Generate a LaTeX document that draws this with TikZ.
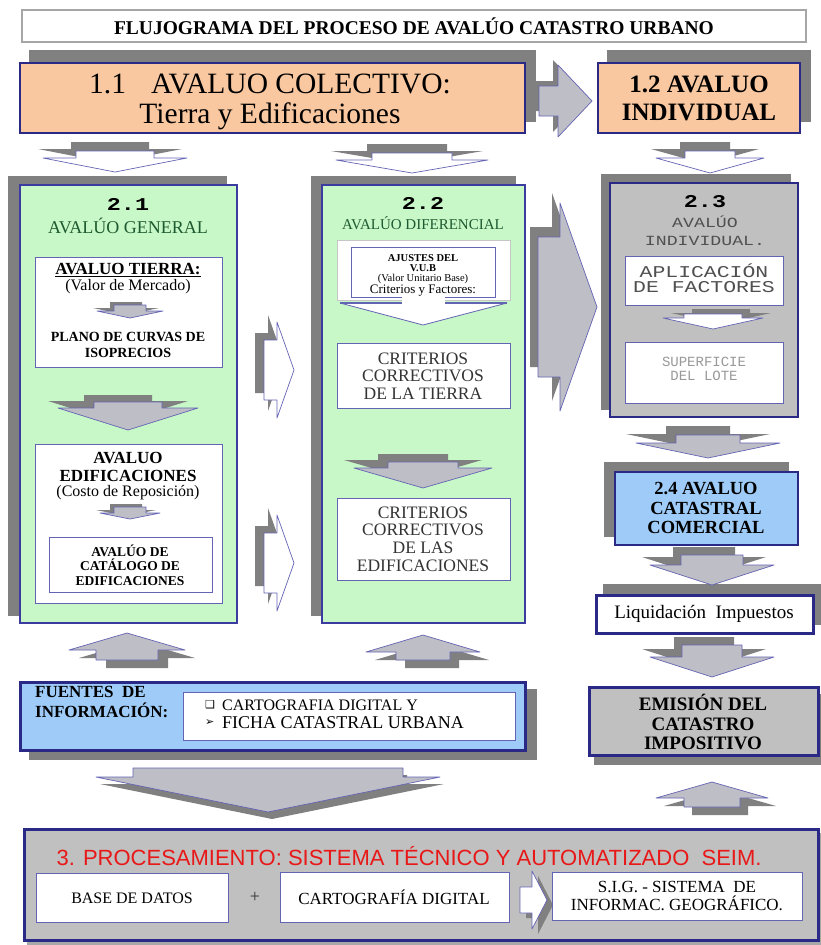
\documentclass[tikz,border=0pt]{standalone}
\usepackage{fontspec}
\setmainfont{Liberation Serif}
\setsansfont{Liberation Sans}
\setmonofont{Liberation Mono}
\newfontfamily\symfont{DejaVu Sans}
\newfontfamily\monow[FakeStretch=1.3]{Liberation Mono}
\usetikzlibrary{calc}
\pgfdeclarelayer{back}
\pgfdeclarelayer{bg}
\pgfsetlayers{back,bg,main}

\definecolor{peach}{HTML}{FAC8A0}
\definecolor{lgreen}{HTML}{C8F7C8}
\definecolor{lblue}{HTML}{9ECBF7}
\definecolor{boxgray}{HTML}{C0C0C0}
\definecolor{shd}{HTML}{808080}
\definecolor{lshd}{HTML}{A8A8A8}
\definecolor{dblue}{HTML}{2A2A86}
\definecolor{mblue}{HTML}{3C3CA0}
\definecolor{iblue}{HTML}{6464B4}
\definecolor{tgreen}{HTML}{1E5A30}
\definecolor{tdark}{HTML}{333333}
\definecolor{tgray}{HTML}{505050}
\definecolor{arrgray}{HTML}{BEBEC6}
\definecolor{redt}{HTML}{E81818}

\newcommand\fs[2]{\fontsize{#1}{#2}\selectfont}
% box node: name, x1,y1,x2,y2, style
\newcommand\bx[6]{\node[inner sep=0pt, #6, minimum width={#4-#2}, minimum height={#5-#3}] (#1) at ({(#2+#4)/2},{(#3+#5)/2}) {};}
% shadow of a box: name, dx, dy
\newcommand\sh[4][shd]{\begin{pgfonlayer}{bg}\fill[#1] ([shift={(#3,#4)}]#2.south west) rectangle ([shift={(#3,#4)}]#2.north east);\end{pgfonlayer}}
% down arrow: opts, cx, ytop, stem half width, stem height, head half width, head height
\newcommand\darr[7]{\path[#1] (#2-#4,#3) -- (#2+#4,#3) -- (#2+#4,#3+#5) -- (#2+#6,#3+#5) -- (#2,#3+#5+#7) -- (#2-#6,#3+#5) -- (#2-#4,#3+#5) -- cycle;}
\newcommand\darrS[9]{\begin{scope}[shift={(#1,#2)}]\darr{fill=shd}{#4}{#5}{#6}{#7}{#8}{#9}\end{scope}%
  \darr{fill=#3, draw=iblue, line width=0.7pt, line join=round}{#4}{#5}{#6}{#7}{#8}{#9}}
% up arrow: opts, cx, ytip, head height, head half width, stem height, stem half width
\newcommand\uarr[7]{\path[#1] (#2,#3) -- (#2+#5,#3+#4) -- (#2+#7,#3+#4) -- (#2+#7,#3+#4+#6) -- (#2-#7,#3+#4+#6) -- (#2-#7,#3+#4) -- (#2-#5,#3+#4) -- cycle;}
\newcommand\uarrS[9]{\begin{scope}[shift={(#1,#2)}]\uarr{fill=shd}{#4}{#5}{#6}{#7}{#8}{#9}\end{scope}%
  \uarr{fill=#3, draw=iblue, line width=0.7pt, line join=round}{#4}{#5}{#6}{#7}{#8}{#9}}
% right arrow: opts, xleft, cy, stem half height, stem length, head half height, head length
\newcommand\rarr[7]{\path[#1] (#2,#3-#4) -- (#2+#5,#3-#4) -- (#2+#5,#3-#6) -- (#2+#5+#7,#3) -- (#2+#5,#3+#6) -- (#2+#5,#3+#4) -- (#2,#3+#4) -- cycle;}
\newcommand\rarrS[9]{\begin{scope}[shift={(#1,#2)}]\rarr{fill=shd}{#4}{#5}{#6}{#7}{#8}{#9}\end{scope}%
  \rarr{fill=#3, draw=iblue, line width=0.7pt, line join=round}{#4}{#5}{#6}{#7}{#8}{#9}}

\tikzset{
  txt/.style={inner sep=0pt, align=center},
  wbox/.style={fill=white, draw=iblue, line width=0.8pt},
  gcol/.style={fill=lgreen, draw=mblue, line width=1.2pt},
}

\begin{document}
\begin{tikzpicture}[x=1pt, y=-1pt]
\begin{pgfonlayer}{back}
\fill[white] (0,0) rectangle (821,945);
\end{pgfonlayer}
\useasboundingbox (0,0) rectangle (821,945);

% ---------- title
\bx{tbox}{22}{10}{806}{42}{fill=white, draw=gray!70, line width=1.2pt}
\node[txt, font=\bfseries\fs{19.5}{21}] (ttl) at (414,26.5) {FLUJOGRAMA DEL PROCESO DE AVALÚO CATASTRO URBANO};

% ---------- 1.1
\bx{b11}{20}{63}{525}{133}{fill=peach, draw=dblue, line width=2.5pt}
\sh{b11}{10}{-12}
\node[txt, font=\fs{29.5}{30}] (t11) at (270,102) {1.1\hspace{0.6em} AVALUO COLECTIVO:\\Tierra y Edificaciones};

% arrow 1.1 -> 1.2
\rarrS{-5}{-5}{arrgray}{539}{101}{15}{19}{36}{34}

% ---------- 1.2
\bx{b12}{598}{63}{800}{133}{fill=peach, draw=dblue, line width=2.5pt}
\sh{b12}{10}{-12}
\node[txt, font=\bfseries\fs{25}{28}] (t12) at (699,98) {1.2 AVALUO\\INDIVIDUAL};

% down arrows row 1
\darrS{-5}{-9}{white}{115}{151}{39}{7}{72}{14}
\darrS{-5}{-9}{white}{412}{153}{40}{7}{76}{13}
\darrS{-5}{-9}{white}{710}{151}{25}{7}{54}{15}

% ---------- column 2.1
\bx{c21}{20}{185}{237}{623}{gcol}
\sh{c21}{-11}{-8}
\node[txt, font=\monow\bfseries\fs{18}{20}] (h21) at (128,204) {2.1};
\node[txt, font=\fs{18}{20}, text=tgreen] (g21) at (128,226) {AVALÚO GENERAL};
\bx{t1}{35}{257}{222}{367}{wbox}
\node[txt, font=\bfseries\fs{17}{19}] (avt) at (128,270) {\underline{AVALUO TIERRA:}};
\node[txt, font=\fs{16}{18}] (vm) at (128,287) {(Valor de Mercado)};
\darrS{-4}{-3}{arrgray}{130}{305}{16}{6}{33}{7}
\node[txt, font=\bfseries\fs{14}{16}] (pl) at (128,345) {PLANO DE CURVAS DE\\ISOPRECIOS};
\darrS{-10}{-7}{arrgray}{128}{402}{34}{6}{70}{22}
\bx{e1}{35}{444}{222}{603}{wbox}
\node[txt, font=\bfseries\fs{17}{18}] (ae) at (128,467) {AVALUO\\EDIFICACIONES};
\node[txt, font=\fs{16}{18}] (cr) at (128,493) {(Costo de Reposición)};
\darrS{-4}{-3}{arrgray}{130}{507}{16}{6}{30}{6}
\bx{e2}{49}{537}{212}{592}{wbox}
\node[txt, font=\bfseries\fs{13.5}{14.5}] (ac) at (130,565) {AVALÚO DE\\CATÁLOGO DE\\EDIFICACIONES};

% right arrows between 2.1 and 2.2
\rarrS{-9}{-7}{white}{264}{370}{30}{13}{48}{17}
\rarrS{-9}{-7}{white}{264}{563}{30}{13}{48}{17}

% ---------- column 2.2
\bx{c22}{322}{185}{525}{623}{gcol}
\sh{c22}{-10}{-8}
\node[txt, font=\monow\bfseries\fs{18}{20}] (h22) at (423,203) {2.2};
\node[txt, font=\fs{15}{17}, text=tgreen] (g22) at (423,223) {AVALÚO DIFERENCIAL};
\bx{co}{337}{240}{510}{300}{fill=white, draw=gray!45, line width=0.6pt}
\bx{coi}{351}{247}{495}{297}{draw=iblue, line width=0.8pt}
\fill[white] (402,296) rectangle (445,305);
\path[fill=white] (340,303) -- (507,303) -- (423,325) -- cycle;
\draw[iblue, line width=0.8pt, line join=round] (340,303) -- (423,325) -- (507,303);
\draw[iblue, line width=2pt] (340,303) -- (402,303) (445,303) -- (507,303);
\node[txt, font=\bfseries\fs{10.5}{11}] (aj1) at (423,258) {AJUSTES DEL};
\node[txt, font=\bfseries\fs{10.5}{11}] (aj2) at (423,268) {V.U.B};
\node[txt, font=\fs{10.5}{11}] (aj3) at (423,279) {(Valor Unitario Base)};
\node[txt, font=\fs{13}{14}] (aj4) at (423,291) {Criterios y Factores:};
\bx{k1}{337}{343}{510}{408}{wbox}
\node[txt, font=\fs{17.5}{17.5}, text=tdark] (k1t) at (423,376) {CRITERIOS\\CORRECTIVOS\\DE LA TIERRA};
\darrS{-10}{-8}{arrgray}{423}{462}{35}{6}{69}{20}
\bx{k2}{337}{498}{510}{580}{wbox}
\node[txt, font=\fs{17.5}{17.7}, text=tdark] (k2t) at (423,539) {CRITERIOS\\CORRECTIVOS\\DE LAS\\EDIFICACIONES};

% big arrow 2.2 -> 2.3
\rarrS{-8}{-10}{arrgray}{538}{307}{70}{22}{104}{37}

% ---------- column 2.3
\bx{c23}{610}{183}{798}{417}{fill=boxgray, draw=dblue, line width=2pt}
\sh{c23}{-8}{-8}
\node[txt, font=\monow\bfseries\fs{18}{20}] (h23) at (705,202) {2.3};
\node[txt, font=\monow\fs{14}{18}, text=tgray] (g23) at (705,231) {AVALÚO\\INDIVIDUAL.};
\bx{ap}{625}{256}{783}{305}{wbox}
\node[txt, font=\monow\fs{16.5}{15}, text=tgray] (apt) at (704,278) {APLICACIÓN\\DE FACTORES};
\darrS{8}{-5}{white}{713}{314}{29}{4}{50}{11}
\bx{su}{625}{342}{783}{403}{wbox}
\node[txt, font=\ttfamily\fs{14}{14}, text=gray!80] (sut) at (704,369) {SUPERFICIE\\DEL LOTE};

% arrow 2.3 -> 2.4
\darrS{-10}{-9}{arrgray}{708}{435}{32}{8}{72}{15}

% ---------- 2.4
\bx{b24}{615}{472}{798}{545}{fill=lblue, draw=dblue, line width=2pt}
\sh{b24}{-10}{-9}
\node[txt, font=\bfseries\fs{18.5}{19.5}] (t24) at (706,508) {2.4 AVALUO\\CATASTRAL\\COMERCIAL};

\darrS{-8}{-8}{arrgray}{712}{555}{31}{10}{62}{20}

% ---------- Liquidación
\bx{liq}{596}{595}{813}{633}{fill=white, draw=dblue, line width=3pt}
\sh{liq}{8}{-10}
\node[txt, font=\fs{19}{20}] (liqt) at (704,614) {Liquidación\ \ Impuestos};

\darrS{-8}{-8}{arrgray}{712}{645}{30}{12}{62}{20}

% ---------- EMISIÓN
\bx{emi}{589}{687}{818}{755}{fill=boxgray, draw=dblue, line width=3pt}
\sh{emi}{6}{8}
\node[txt, font=\bfseries\fs{19}{19.5}] (emit) at (703,722) {EMISIÓN DEL\\CATASTRO\\IMPOSITIVO};

% up arrows
\uarrS{10}{8}{arrgray}{127}{633}{17}{58}{10}{31}
\uarrS{9}{8}{arrgray}{423}{635}{17}{57}{8}{27}
\uarrS{8}{8}{arrgray}{712}{782}{16}{56}{9}{28}

% ---------- FUENTES
\bx{fu}{20}{682}{525}{750}{fill=lblue, draw=dblue, line width=3pt}
\sh{fu}{10}{8}
\node[txt, anchor=west, font=\bfseries\fs{17}{18}] (fu1) at (35,692) {FUENTES\ \ DE};
\node[txt, anchor=west, font=\bfseries\fs{17}{18}] (fu2) at (35,710) {INFORMACIÓN:};
\bx{fi}{183}{692}{515}{740}{wbox}
\node[txt, anchor=west, font=\symfont\fs{11}{12}] (bu1) at (205,705) {❑};
\node[txt, anchor=west, font=\fs{16}{17}] (fi1) at (222,705) {CARTOGRAFIA DIGITAL Y};
\node[txt, anchor=west, font=\symfont\fs{11}{12}] (bu2) at (205,723) {➢};
\node[txt, anchor=west, font=\fs{18}{19}] (fi2) at (222,723) {FICHA CATASTRAL URBANA};

% big down arrow
\darrS{4}{7}{arrgray}{268}{768}{135}{9}{172}{35}

% ---------- 3. PROCESAMIENTO
\bx{pb}{24}{829}{818}{940}{fill=boxgray, draw=dblue, line width=3pt}
\sh[lshd]{pb}{4}{5}
\node[txt, font=\sffamily\fs{22}{24}, text=redt] (pt) at (409,856) {3. PROCESAMIENTO: SISTEMA TÉCNICO Y AUTOMATIZADO\ \ SEIM.};
\bx{bd}{36}{873}{228}{922}{wbox}
\node[txt, font=\fs{16}{18}] (bdt) at (132,898) {BASE DE DATOS};
\node[txt, font=\fs{18}{18}, text=tdark] (plus) at (255,897) {+};
\bx{cd}{280}{872}{509}{922}{wbox}
\node[txt, font=\fs{17}{18}] (cdt) at (394,897) {CARTOGRAFÍA DIGITAL};
\rarrS{6}{5}{white}{520}{900}{13}{12}{29}{15}
\bx{sg}{552}{872}{802}{920}{wbox}
\node[txt, font=\fs{17}{17.5}] (sgt) at (677,896) {S.I.G. - SISTEMA\ \ DE\\INFORMAC. GEOGRÁFICO.};
\end{tikzpicture}
\end{document}
